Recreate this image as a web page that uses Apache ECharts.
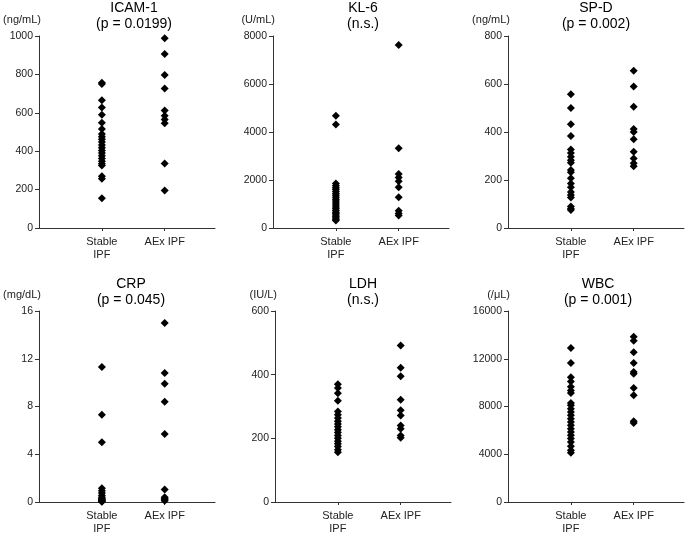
<!DOCTYPE html>
<html>
<head>
<meta charset="utf-8">
<script src="https://cdn.jsdelivr.net/npm/echarts@6/dist/echarts.min.js"></script>
<style>html,body{margin:0;padding:0;background:#fff}#c{width:685px;height:536px}</style>
</head>
<body>
<div id="c"></div>
<script>
// ---- data ----
const categories = ['Stable\nIPF', 'AEx IPF'];
const titles = ['ICAM-1', 'KL-6', 'SP-D', 'CRP', 'LDH', 'WBC'];
const pTexts = ['(p = 0.0199)', '(n.s.)', '(p = 0.002)', '(p = 0.045)', '(n.s.)', '(p = 0.001)'];
const units = ['(ng/mL)', '(U/mL)', '(ng/mL)', '(mg/dL)', '(IU/L)', '(/\u03bcL)'];
const yMax = [1000, 8000, 800, 16, 600, 16000];
const yStep = [200, 2000, 200, 4, 200, 4000];

const icamStable = [757, 750, 665, 628, 590, 548, 515, 490, 475, 462, 448, 432, 418, 404, 390, 376, 362, 348, 335, 325, 270, 257, 155];
const icamAEx = [988, 906, 797, 727, 612, 585, 565, 545, 336, 195];
const kl6Stable = [4680, 4310, 1850, 1760, 1680, 1600, 1520, 1440, 1360, 1280, 1200, 1120, 1040, 960, 880, 800, 730, 660, 600, 540, 480, 420, 360, 310];
const kl6AEx = [7620, 3320, 2250, 2100, 1950, 1700, 1280, 720, 600, 520];
const spdStable = [557, 500, 432, 383, 327, 313, 297, 282, 272, 242, 232, 207, 185, 170, 150, 137, 127, 90, 80, 75];
const spdAEx = [655, 590, 505, 412, 400, 370, 318, 290, 270, 257];
const crpStable = [11.3, 7.3, 5.0, 1.15, 0.95, 0.75, 0.55, 0.4, 0.3, 0.2, 0.15, 0.1, 0.05, 0.03];
const crpAEx = [15.0, 10.8, 9.9, 8.4, 5.7, 1.05, 0.4, 0.28, 0.18, 0.1];
const ldhStable = [370, 358, 342, 318, 284, 274, 264, 254, 245, 236, 227, 218, 209, 200, 191, 183, 174, 164, 156];
const ldhAEx = [492, 422, 395, 321, 288, 272, 240, 230, 209, 202];
const wbcStable = [12900, 11650, 10450, 10100, 9650, 9350, 9130, 8300, 8100, 7820, 7540, 7260, 6980, 6700, 6420, 6140, 5860, 5590, 5310, 5030, 4660, 4330, 4130];
const wbcAEx = [13850, 13500, 12550, 11650, 10900, 10750, 9550, 8950, 6760, 6620];

const groups = [
  [icamStable, icamAEx], [kl6Stable, kl6AEx], [spdStable, spdAEx],
  [crpStable, crpAEx], [ldhStable, ldhAEx], [wbcStable, wbcAEx]
];

// ---- layout ----
const grids = [
  {left: 39, top: 36, width: 176, height: 192},
  {left: 273, top: 36, width: 176, height: 192},
  {left: 508, top: 36, width: 176, height: 192},
  {left: 39, top: 311, width: 176, height: 191},
  {left: 275, top: 311, width: 176, height: 191},
  {left: 508, top: 311, width: 176, height: 191}
];
const titleX = [134, 363, 596, 131, 363, 598];
const titleTop = [0, 0, 0, 276, 276, 276];
const FONT = 'Liberation Sans, Arial, sans-serif';
const AX = '#333';

const option = {
  animation: false,
  backgroundColor: '#fff',
  title: titles.map((t, i) => ({
    text: t + '\n' + pTexts[i],
    left: titleX[i], top: titleTop[i], textAlign: 'center', padding: 0,
    textStyle: {fontFamily: FONT, fontSize: 14, fontWeight: 'normal', color: '#000', lineHeight: 16}
  })),
  grid: grids.map(g => Object.assign({containLabel: false}, g)),
  xAxis: grids.map((g, i) => ({
    type: 'value', gridIndex: i, min: 0, max: 2.8, interval: 1,
    axisLine: {show: true, lineStyle: {color: AX, width: 1}},
    axisTick: {show: true, length: 3, customValues: [1, 2], lineStyle: {color: AX}},
    splitLine: {show: false},
    axisLabel: {
      customValues: [1, 2],
      formatter: v => (v === 1 ? categories[0] : v === 2 ? categories[1] : ''),
      fontFamily: FONT, fontSize: 11, color: '#222', lineHeight: 13, margin: 7
    }
  })),
  yAxis: grids.map((g, i) => ({
    type: 'value', gridIndex: i, min: 0, max: yMax[i], interval: yStep[i],
    name: units[i], nameLocation: 'end', nameGap: 11,
    nameTextStyle: {fontFamily: FONT, fontSize: 11, color: '#222', align: 'right', padding: [0, -2, 0, 0]},
    axisLine: {show: true, lineStyle: {color: AX, width: 1}},
    axisTick: {show: true, length: 4, lineStyle: {color: AX}},
    splitLine: {show: false},
    axisLabel: {fontFamily: FONT, fontSize: 10.5, color: '#222', margin: 6, formatter: v => String(v)}
  })),
  series: groups.map((gr, i) => ({
    type: 'scatter', xAxisIndex: i, yAxisIndex: i,
    symbol: 'diamond', symbolSize: [8, 8],
    itemStyle: {color: '#000', opacity: 1},
    data: gr[0].map(v => [1, v]).concat(gr[1].map(v => [2, v]))
  }))
};

const chart = echarts.init(document.getElementById('c'), null, {renderer: 'canvas'});
chart.setOption(option);
</script>
</body>
</html>
